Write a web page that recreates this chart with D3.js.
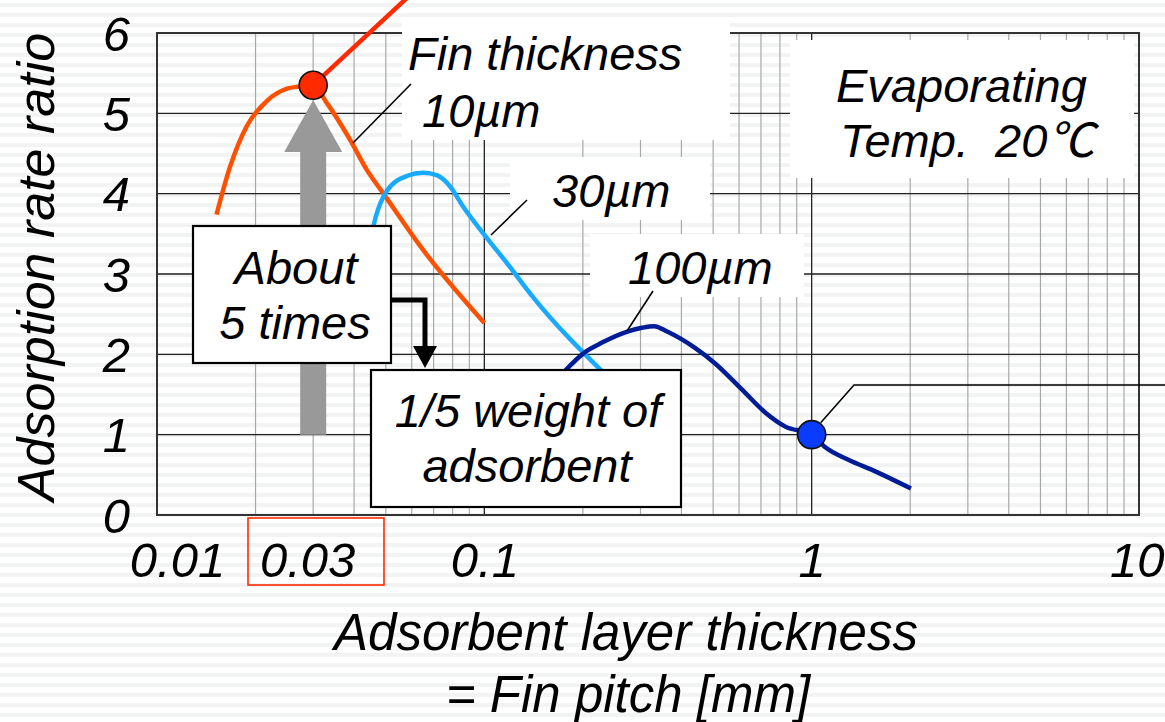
<!DOCTYPE html>
<html>
<head>
<meta charset="utf-8">
<script src="https://cdn.jsdelivr.net/npm/d3@7"></script>
<style>
  body { margin: 0; background: #fff; }
  svg text { font-family: "Liberation Sans", Arial, "Noto Sans CJK JP", sans-serif; font-style: italic; fill: #000; white-space: pre; }
</style>
</head>
<body>
<div id="chart"></div>
<script>
// data
var xTicks = [0.01, 0.03, 0.1, 1, 10];
var xTickLabels = ["0.01", "0.03", "0.1", "1", "10"];
var yTicks = [0, 1, 2, 3, 4, 5, 6];

// fin thickness 10um
var fin10x = [0.0152, 0.0167, 0.0188, 0.0216, 0.0251, 0.0268, 0.030, 0.033, 0.0389, 0.0437, 0.049, 0.065, 0.1];
var fin10y = [3.74, 4.33, 4.84, 5.15, 5.31, 5.33, 5.35, 5.13, 4.67, 4.30, 4.01, 3.30, 2.39];
// fin thickness 30um
var fin30x = [0.0445, 0.0465, 0.0503, 0.0579, 0.0651, 0.0715, 0.0786, 0.0861, 0.1017, 0.117, 0.141, 0.234];
var fin30y = [3.35, 3.70, 4.03, 4.22, 4.26, 4.23, 4.09, 3.84, 3.45, 3.14, 2.71, 1.75];
// fin thickness 100um
var fin100x = [0.175, 0.2035, 0.2273, 0.272, 0.303, 0.330, 0.363, 0.440, 0.506, 0.613, 0.724, 0.831, 1.0, 1.095, 1.29, 1.57, 2.01];
var fin100y = [1.78, 2.03, 2.14, 2.28, 2.33, 2.35, 2.28, 2.08, 1.89, 1.56, 1.27, 1.10, 1.0, 0.85, 0.69, 0.54, 0.33];

// highlighted points
var pointX = [0.03, 1];
var pointY = [5.35, 1.0];
var pointColors = ["#ff2a00", "#0a3cff"];

var width = 1165, height = 722;
var margin = { top: 33, right: 26, bottom: 207, left: 157 };

var svg = d3.select("#chart")
    .append("svg")
    .attr("width", width)
    .attr("height", height);

// slide background stripes
var defs = svg.append("defs");
var pat = defs.append("pattern")
    .attr("id", "stripes")
    .attr("width", 10).attr("height", 10)
    .attr("patternUnits", "userSpaceOnUse");
pat.append("rect").attr("width", 10).attr("height", 10).attr("fill", "#ffffff");
pat.append("rect").attr("y", 3).attr("width", 10).attr("height", 4).attr("fill", "#f2f3f3");
svg.append("rect").attr("width", width).attr("height", height).attr("fill", "url(#stripes)");

var x = d3.scaleLog()
    .domain([0.01, 10])
    .range([margin.left, width - margin.right]);
var y = d3.scaleLinear()
    .domain([0, 6])
    .range([height - margin.bottom, margin.top]);

// minor vertical grid
var minor = [];
[0.01, 0.1, 1].forEach(function (d) {
    for (var k = 2; k <= 9; k++) minor.push(d * k);
});
svg.append("g").selectAll("line")
    .data(minor)
    .enter().append("line")
    .attr("x1", function (d) { return x(d); })
    .attr("x2", function (d) { return x(d); })
    .attr("y1", y(0)).attr("y2", y(6))
    .attr("stroke", "#a8a8a8")
    .attr("stroke-width", 1.2);

// major grid
svg.append("g").selectAll("line")
    .data([0.1, 1])
    .enter().append("line")
    .attr("x1", function (d) { return x(d); })
    .attr("x2", function (d) { return x(d); })
    .attr("y1", y(0)).attr("y2", y(6))
    .attr("stroke", "#222")
    .attr("stroke-width", 1.3);
svg.append("g").selectAll("line")
    .data(yTicks.slice(1, 6))
    .enter().append("line")
    .attr("x1", x(0.01)).attr("x2", x(10))
    .attr("y1", function (d) { return y(d); })
    .attr("y2", function (d) { return y(d); })
    .attr("stroke", "#222")
    .attr("stroke-width", 1.3);

// frame
svg.append("rect")
    .attr("x", x(0.01)).attr("y", y(6))
    .attr("width", x(10) - x(0.01)).attr("height", y(0) - y(6))
    .attr("fill", "none")
    .attr("stroke", "#333")
    .attr("stroke-width", 2);

// white label backgrounds
function whiteBox(x0, y0, w, h) {
    svg.append("rect").attr("x", x0).attr("y", y0).attr("width", w).attr("height", h).attr("fill", "#fff");
}
whiteBox(402, 22, 328, 118);
whiteBox(510, 157, 200, 63);
whiteBox(590, 234, 214, 63);
whiteBox(790, 40, 344, 138);

// gray arrow
var ax = x(0.03);
svg.append("path")
    .attr("d", "M" + (ax - 13) + "," + y(1) + " L" + (ax - 13) + "," + 152 + " L" + (ax - 29) + "," + 152 +
        " L" + ax + "," + 100 + " L" + (ax + 29) + "," + 152 + " L" + (ax + 13) + "," + 152 +
        " L" + (ax + 13) + "," + y(1) + " Z")
    .attr("fill", "#999999");

// curves
var line = d3.line()
    .x(function (d) { return x(d[0]); })
    .y(function (d) { return y(d[1]); })
    .curve(d3.curveMonotoneX);

function drawCurve(xs, ys, color) {
    svg.append("path")
        .datum(d3.zip(xs, ys))
        .attr("fill", "none")
        .attr("stroke", color)
        .attr("stroke-width", 4.5)
        .attr("stroke-linejoin", "round")
        .attr("d", line);
}
drawCurve(fin10x, fin10y, "#ff5000");
drawCurve(fin30x, fin30y, "#18aaff");
drawCurve(fin100x, fin100y, "#001c96");

// red leader from the 0.03 point
svg.append("line")
    .attr("x1", x(0.03)).attr("y1", y(5.35))
    .attr("x2", x(0.0585)).attr("y2", y(6.45))
    .attr("stroke", "#ff2a00")
    .attr("stroke-width", 4.5);

// thin callout lines
function callout(pts) {
    svg.append("path")
        .attr("d", d3.line()(pts))
        .attr("fill", "none")
        .attr("stroke", "#000")
        .attr("stroke-width", 1.6);
}
callout([[353, 143], [411, 84]]);
callout([[491, 235], [527, 200]]);
callout([[627, 331], [653, 291]]);
callout([[x(1) + 9, y(1) - 12], [854, 385], [1165, 385]]);

// highlighted points
svg.append("g").selectAll("circle")
    .data(d3.range(pointX.length))
    .enter().append("circle")
    .attr("cx", function (i) { return x(pointX[i]); })
    .attr("cy", function (i) { return y(pointY[i]); })
    .attr("r", 14)
    .attr("fill", function (i) { return pointColors[i]; })
    .attr("stroke", "#111")
    .attr("stroke-width", 1.6);

// boxed annotations
svg.append("rect")
    .attr("x", 193).attr("y", 226).attr("width", 198).attr("height", 137)
    .attr("fill", "#fff").attr("stroke", "#000").attr("stroke-width", 2.2);
svg.append("rect")
    .attr("x", 371).attr("y", 370).attr("width", 310).attr("height", 137)
    .attr("fill", "#fff").attr("stroke", "#000").attr("stroke-width", 2.2);

// black elbow arrow
svg.append("path")
    .attr("d", "M392,300 L425,300 L425,350")
    .attr("fill", "none")
    .attr("stroke", "#000")
    .attr("stroke-width", 5);
svg.append("path")
    .attr("d", "M413,346 L437,346 L425,368 Z")
    .attr("fill", "#000");

// texts
function label(txt, tx, ty, size, anchor) {
    return svg.append("text")
        .attr("x", tx).attr("y", ty)
        .attr("font-size", size)
        .attr("text-anchor", anchor || "start")
        .text(txt);
}
label("Fin thickness", 408, 70, 47);
label("10µm", 422, 127, 47);
label("30µm", 552, 207, 47);
label("100µm", 628, 284, 47);
label("Evaporating", 836, 102, 47);
label("Temp.  20℃", 840, 157, 47);
label("About", 296, 284, 47, "middle");
label("5 times", 295, 339, 47, "middle");
label("1/5 weight of", 528, 427, 47, "middle");
label("adsorbent", 527, 482, 47, "middle");

// y axis
var yAxis = svg.append("g")
    .attr("transform", "translate(" + x(0.01) + ",0)")
    .call(d3.axisLeft(y).tickValues(yTicks).tickSize(0).tickPadding(27).tickFormat(d3.format("d")));
yAxis.select(".domain").remove();
yAxis.selectAll("text")
    .attr("font-size", 49)
    .attr("dy", "0.35em")
    .style("font-family", null);

// x axis
var xAxis = svg.append("g")
    .attr("transform", "translate(0," + y(0) + ")")
    .call(d3.axisBottom(x).tickValues(xTicks).tickSize(0).tickPadding(0)
        .tickFormat(function (d, i) { return xTickLabels[i]; }));
xAxis.select(".domain").remove();
xAxis.selectAll("text")
    .attr("font-size", 49)
    .attr("dy", null)
    .attr("y", 62)
    .attr("dx", function (d) { return d === 0.01 ? 20 : (d === 0.03 ? -6 : 0); })
    .style("font-family", null);
// last label sits at the right edge of the page
xAxis.selectAll(".tick").filter(function (d) { return d === 10; }).select("text")
    .attr("text-anchor", "end")
    .attr("dx", 25);

// red box around 0.03
svg.append("rect")
    .attr("x", 248).attr("y", 518).attr("width", 136).attr("height", 67)
    .attr("fill", "none")
    .attr("stroke", "#ff2a00")
    .attr("stroke-width", 1.6);

// axis titles
svg.append("text")
    .attr("transform", "translate(54,267) rotate(-90)")
    .attr("text-anchor", "middle")
    .attr("font-size", 52)
    .text("Adsorption rate ratio");
label("Adsorbent layer thickness", 626, 650, 51, "middle");
label("= Fin pitch [mm]", 628, 712, 51, "middle");
</script>
</body>
</html>
